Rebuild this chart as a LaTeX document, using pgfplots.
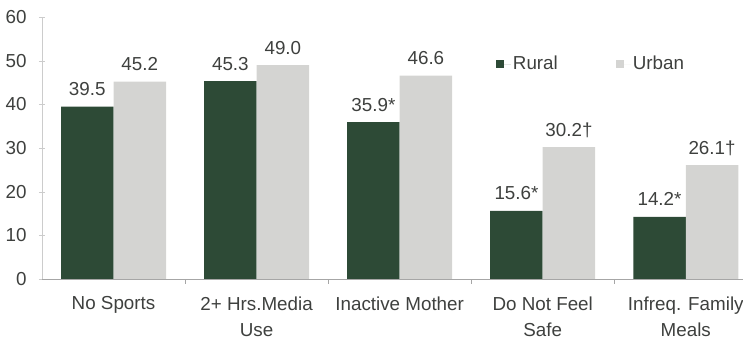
\documentclass[border=0pt]{standalone}
\usepackage{fontspec}
\setmainfont{Liberation Sans}
\usepackage{pgfplots}
\pgfplotsset{compat=1.18}

\definecolor{rural}{RGB}{45,74,54}
\definecolor{urban}{RGB}{212,212,210}
\definecolor{txt}{RGB}{62,64,62}

\begin{document}
\fontsize{18.8}{26}\selectfont
\begin{tikzpicture}
\begin{axis}[
  name=ax,
  scale only axis, width=701pt, height=262pt,
  ybar, bar width=52.5pt, ybar=0pt,
  ymin=0, ymax=60, ytick={0,10,...,60},
  xmin=-0.5, xmax=4.4,
  axis lines*=left,
  x axis line style={draw=gray!70},
  y axis line style={draw=gray!40},
  xtick={0,...,4},
  xticklabels={No Sports, 2+ Hrs.Media\\Use, Inactive Mother, Do Not Feel\\Safe, Infreq. Family\\Meals},
  major x tick style={draw=none},
  extra x ticks={0.5,1.5,2.5,3.5},
  extra x tick labels={},
  extra x tick style={tick align=outside, major tick length=5pt, major x tick style={draw=gray!70}},
  ytick align=center, major y tick style={draw=gray!40}, major tick length=6pt,
  /pgf/number format/assume math mode=true,
  tick label style={text=txt},
  xticklabel style={align=center, yshift=-5pt},
  yticklabel style={xshift=-6pt},
  nodes near coords,
  point meta=explicit symbolic,
  nodes near coords style={anchor=base, yshift=11pt, text=txt},
  legend style={at={(0.643,0.82)}, anchor=west, draw=none, fill=none,
    legend columns=2, text=txt,
    /tikz/every even column/.append style={column sep=56pt}},
]
\addplot[fill=rural, draw=none,
  legend image code/.code={\fill[rural] (0pt,-4pt) rectangle (8pt,4pt); \path (8pt,0pt) -- (15pt,0pt);}]
  coordinates {(0,39.5) [39.5] (1,45.3) [45.3] (2,35.9) [35.9*] (3,15.6) [15.6*] (4,14.2) [14.2*]};
\addplot[fill=urban, draw=none,
  legend image code/.code={\fill[urban] (0pt,-4pt) rectangle (8pt,4pt); \path (8pt,0pt) -- (15pt,0pt);}]
  coordinates {(0,45.2) [45.2] (1,49.0) [49.0] (2,46.6) [46.6] (3,30.2) [30.2†] (4,26.1) [26.1†]};
\legend{Rural, Urban}
\end{axis}
\pgfresetboundingbox
\path ([xshift=-42pt,yshift=-67pt]ax.south west) rectangle ([yshift=17pt]ax.north east);
\end{tikzpicture}
\end{document}
